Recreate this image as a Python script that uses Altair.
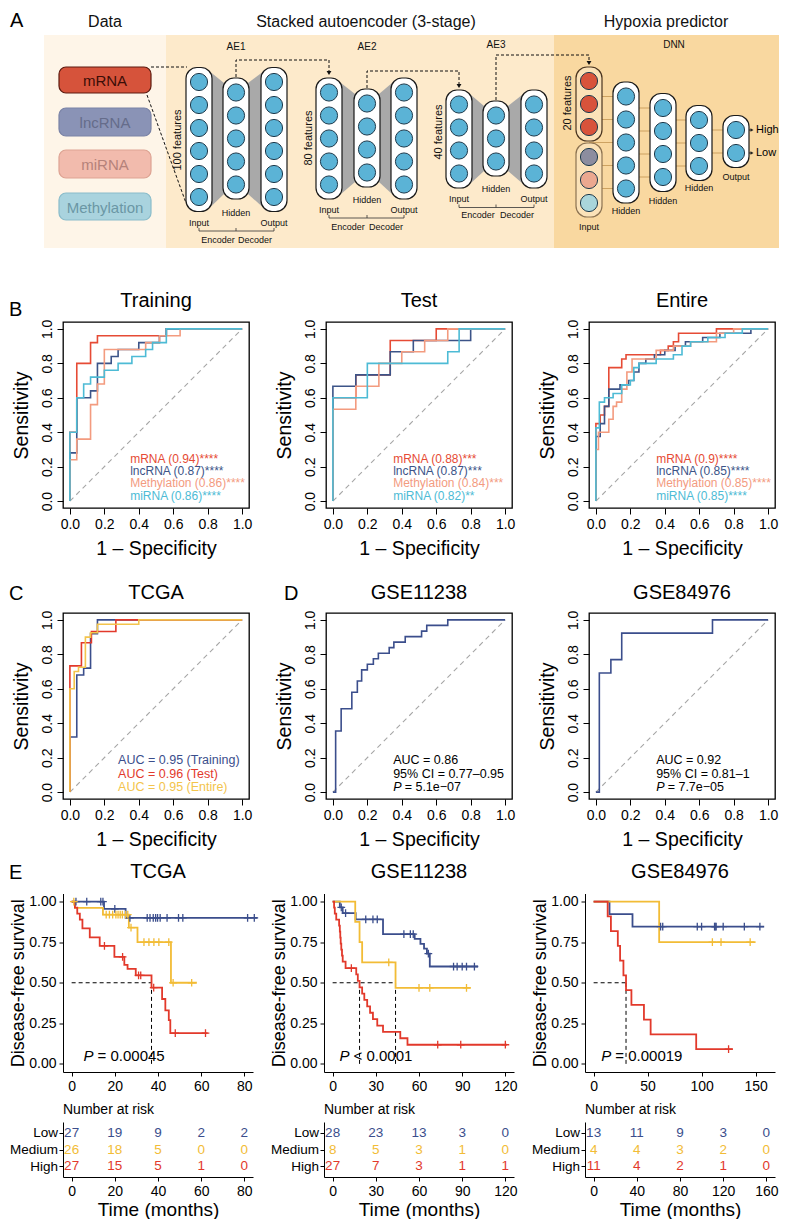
import altair as alt
import pandas as pd

FONT = "Liberation Sans"

# ---------------- colours ----------------
C_MRNA, C_LNC, C_METH, C_MIR = "#E64B35", "#3C5488", "#F39B7F", "#4DBBD5"
C_LOW, C_MED, C_HIGH, C_ENT = "#3B4E8C", "#F2BC36", "#E2392B", "#F3C44C"

# =============== Panel A : network diagram (geometry of the schematic) ===============
DIAG_X0, DIAG_X1 = 62, 776
region_x1 = [43, 165, 553]
region_x2 = [165, 553, 778]
region_fill = ["#FEF5E8", "#FDEACB", "#F9D8A0"]
region_top, region_bottom = 35, 248

omics_names = ["mRNA", "lncRNA", "miRNA", "Methylation"]
omics_y1 = [67, 108, 150, 193]
omics_y2 = [93, 136, 178, 220]
omics_fill = ["#D6533B", "#8A93B6", "#F2BBAD", "#A9D3DE"]
omics_stroke = ["#5C1B10", "#7A83A6", "#DDA393", "#8ABCCA"]
omics_text = ["#3B0E07", "#656C8A", "#B5827A", "#6B97A5"]

col_cx = [198, 235, 273, 328, 366, 403, 458, 495, 533, 625, 662, 698, 735]
col_cy = [139.5, 138.5, 139.5, 138.5, 138, 138.5, 139, 138.5, 139, 142.5, 142.5, 143, 141.5]
col_n = [6, 5, 6, 5, 4, 5, 4, 3, 4, 5, 4, 3, 2]
funnel_pairs = [(0, 1), (1, 2), (3, 4), (4, 5), (6, 7), (7, 8)]
dnn_pairs = [(13, 9), (9, 10), (10, 11), (11, 12)]

dnn_in_cx = 588
dnn_in_cy = [104, 180]
dnn_in_colors = [["#D8533B", "#D8533B", "#D8533B"], ["#8C8D9F", "#EBA890", "#A9D5DB"]]

dash_paths = [
    [(150, 67), (186, 67)],
    [(146, 95), (185, 203)],
    [(235, 77), (235, 60), (328, 60), (328, 73)],
    [(366, 88), (366, 71), (458, 71), (458, 86)],
    [(495, 100), (495, 55), (588, 55), (588, 63)],
]
arrow_down = [(328, 73), (458, 86), (588, 63)]

bracket_y = [231, 218, 207.5]
bracket_x = [(198, 235, 273), (328, 366, 403), (458, 495, 533)]

lab_text = ["Data", "Stacked autoencoder (3-stage)", "Hypoxia predictor",
            "AE1", "AE2", "AE3", "DNN",
            "Input", "Hidden", "Output", "Encoder", "Decoder",
            "Input", "Hidden", "Output", "Encoder", "Decoder",
            "Input", "Hidden", "Output", "Encoder", "Decoder",
            "Input", "Hidden", "Hidden", "Hidden", "Output"]
lab_x = [104, 365, 665, 235, 366, 495, 673,
         198, 235, 273, 217, 254,
         328, 366, 403, 347, 385,
         458, 495, 533, 477, 516,
         588, 625, 662, 698, 735]
lab_y = [22, 22, 22, 46.5, 46.5, 45, 45,
         222.5, 213, 222.5, 239.5, 239.5,
         210, 200, 210, 226.5, 226.5,
         199, 189, 199, 215, 215,
         227, 211, 201, 188, 177]
lab_size = [16, 16, 16, 10, 10, 10, 10] + [9] * 20

feat_text = ["100 features", "80 features", "40 features", "20 features"]
feat_x = [177, 308, 438, 567]
feat_y = [140, 138, 132, 103]

out_text = ["High", "Low"]
out_y = [130, 153]


def diagram():
    xs = alt.Scale(domain=[DIAG_X0, DIAG_X1], nice=False, zero=False)
    ys = alt.Scale(domain=[8, 250], nice=False, zero=False, reverse=True)

    def X(f):
        return alt.X(f + ":Q", scale=xs, axis=None)

    def Y(f):
        return alt.Y(f + ":Q", scale=ys, axis=None)

    L = []
    reg = pd.DataFrame({"x1": region_x1, "x2": region_x2, "y1": region_top,
                        "y2": region_bottom, "fill": region_fill})
    L.append(alt.Chart(reg).mark_rect().encode(
        x=X("x1"), x2="x2:Q", y=Y("y1"), y2="y2:Q", fill=alt.Fill("fill:N", scale=None)))

    om = pd.DataFrame({"name": omics_names, "y1": omics_y1, "y2": omics_y2, "x1": 58, "x2": 150,
                       "fill": omics_fill, "stroke": omics_stroke, "tc": omics_text})
    om["yc"] = (om["y1"] + om["y2"]) / 2
    om["xc"] = 104
    L.append(alt.Chart(om).mark_rect(cornerRadius=7, strokeWidth=1.2).encode(
        x=X("x1"), x2="x2:Q", y=Y("y1"), y2="y2:Q",
        fill=alt.Fill("fill:N", scale=None), stroke=alt.Stroke("stroke:N", scale=None)))
    L.append(alt.Chart(om).mark_text(fontSize=15, baseline="middle", dy=1).encode(
        x=X("xc"), y=Y("yc"), text="name:N", color=alt.Color("tc:N", scale=None)))

    cols = []
    for cx, cy, n in zip(col_cx, col_cy, col_n):
        h = n * 23 + 6
        cols.append(dict(x1=cx - 13, x2=cx + 13, y1=cy - h / 2, y2=cy + h / 2, cx=cx))
    cols_all = cols + [dict(x1=dnn_in_cx - 13, x2=dnn_in_cx + 13, y1=67, y2=217, cx=dnn_in_cx)]

    fun = []
    for k, (a, b) in enumerate(funnel_pairs):
        A, B = cols[a], cols[b]
        fun.append(dict(fid=k, x=A["x2"] - 1, yt=A["y1"] + 5, yb=A["y2"] - 5))
        fun.append(dict(fid=k, x=B["x1"] + 1, yt=B["y1"] + 5, yb=B["y2"] - 5))
    L.append(alt.Chart(pd.DataFrame(fun)).mark_area(color="#A9A9A9", opacity=1).encode(
        x=X("x"), y=Y("yt"), y2="yb:Q", detail="fid:N"))

    con = []
    for a, b in dnn_pairs:
        A, B = cols_all[a], cols_all[b]
        n = col_n[b]
        cy = col_cy[b]
        for i in range(n):
            con.append(dict(x1=A["cx"], x2=B["cx"], y=cy + (i - (n - 1) / 2) * 23))
    L.append(alt.Chart(pd.DataFrame(con)).mark_rule(color="#C79C5A", strokeWidth=0.9).encode(
        x=X("x1"), x2="x2:Q", y=Y("y")))

    dp = []
    for k, path in enumerate(dash_paths):
        for i, (px, py) in enumerate(path):
            dp.append(dict(pid=k, i=i, x=px, y=py))
    L.append(alt.Chart(pd.DataFrame(dp)).mark_line(strokeDash=[3, 2], color="#111", strokeWidth=1).encode(
        x=X("x"), y=Y("y"), detail="pid:N", order="i:Q"))

    L.append(alt.Chart(pd.DataFrame(cols)).mark_rect(cornerRadius=11, fill="white", stroke="#1A1A1A",
                                                      strokeWidth=1.2).encode(
        x=X("x1"), x2="x2:Q", y=Y("y1"), y2="y2:Q"))
    dbox = pd.DataFrame({"x1": dnn_in_cx - 13, "x2": dnn_in_cx + 13,
                         "y1": [67, 143], "y2": [141, 217], "st": ["#4A3520", "#8C7352"]})
    L.append(alt.Chart(dbox).mark_rect(cornerRadius=11, fill="#FBE2B8", strokeWidth=1.2).encode(
        x=X("x1"), x2="x2:Q", y=Y("y1"), y2="y2:Q", stroke=alt.Stroke("st:N", scale=None)))

    circ = []
    for cx, cy, n in zip(col_cx, col_cy, col_n):
        for i in range(n):
            circ.append(dict(x=cx, y=cy + (i - (n - 1) / 2) * 23, f="#5BB3D6"))
    for cy, colors in zip(dnn_in_cy, dnn_in_colors):
        for i, c in enumerate(colors):
            circ.append(dict(x=dnn_in_cx, y=cy + (i - 1) * 23, f=c))
    L.append(alt.Chart(pd.DataFrame(circ)).mark_circle(size=295, opacity=1, stroke="#1E3A4C",
                                                        strokeWidth=1).encode(
        x=X("x"), y=Y("y"), color=alt.Color("f:N", scale=None)))

    ad = pd.DataFrame({"x": [p[0] for p in arrow_down], "y": [p[1] for p in arrow_down]})
    L.append(alt.Chart(ad).mark_point(shape="triangle-down", filled=True, size=24, color="#111",
                                      opacity=1).encode(x=X("x"), y=Y("y")))

    oa = pd.DataFrame({"x1": 748, "x2": 751, "y": out_y, "t": out_text, "xt": 755})
    L.append(alt.Chart(oa).mark_rule(color="#222", strokeWidth=1).encode(x=X("x1"), x2="x2:Q", y=Y("y")))
    L.append(alt.Chart(oa).mark_point(shape="triangle-right", filled=True, size=12, color="#222",
                                      opacity=1).encode(x=X("x2"), y=Y("y")))
    L.append(alt.Chart(oa).mark_text(align="left", baseline="middle", fontSize=11).encode(
        x=X("xt"), y=Y("y"), text="t:N"))

    br = []
    for yb, xsb in zip(bracket_y, bracket_x):
        br.append(dict(x1=xsb[0], x2=xsb[2], y1=yb, y2=yb))
        for xx in xsb:
            br.append(dict(x1=xx, x2=xx, y1=yb - 3, y2=yb))
    L.append(alt.Chart(pd.DataFrame(br)).mark_rule(color="#333", strokeWidth=0.8).encode(
        x=X("x1"), x2="x2:Q", y=Y("y1"), y2="y2:Q"))

    lab = pd.DataFrame({"t": lab_text, "x": lab_x, "y": lab_y, "s": lab_size})
    L.append(alt.Chart(lab).mark_text(baseline="middle", color="#111").encode(
        x=X("x"), y=Y("y"), text="t:N", size=alt.Size("s:Q", scale=None)))
    ft = pd.DataFrame({"t": feat_text, "x": feat_x, "y": feat_y})
    L.append(alt.Chart(ft).mark_text(angle=270, baseline="middle", fontSize=11, color="#111").encode(
        x=X("x"), y=Y("y"), text="t:N"))
    L.append(alt.Chart(pd.DataFrame({"t": ["A"], "x": [9], "y": [27]})).mark_text(
        align="left", baseline="alphabetic", fontSize=20).encode(x=X("x"), y=Y("y"), text="t:N"))

    return alt.layer(*L).properties(width=DIAG_X1 - DIAG_X0, height=242)


# =============== ROC panels ===============
ROC_W = 186
TICKS01 = [0, 0.2, 0.4, 0.6, 0.8, 1.0]
ROC_XAXIS = alt.Axis(values=TICKS01, format=".1f", title="1 – Specificity", tickSize=6, labelPadding=3,
                     labelFontSize=14, titleFontSize=19.5, titlePadding=8, grid=False, domain=False,
                     labelFlush=False, labelOverlap=False)
ROC_YAXIS = alt.Axis(values=TICKS01, format=".1f", title="Sensitivity", tickSize=6, labelPadding=3,
                     labelFontSize=14, labelAngle=270, labelAlign="center", labelBaseline="bottom",
                     titleFontSize=19.5, titlePadding=9, grid=False, domain=False,
                     labelFlush=False, labelOverlap=False)

# Training
tr_names = ["mRNA", "lncRNA", "Methylation", "miRNA"]
tr_colors = [C_MRNA, C_LNC, C_METH, C_MIR]
tr_x = [[0, 0, 0.04, 0.12, 0.16, 0.56, 1.0],
        [0, 0, 0.04, 0.12, 0.16, 0.24, 0.28, 0.40, 0.52, 0.56, 1.0],
        [0, 0, 0.04, 0.12, 0.16, 0.20, 0.44, 0.52, 0.64, 1.0],
        [0, 0, 0.04, 0.08, 0.12, 0.20, 0.28, 0.36, 0.44, 0.48, 0.56, 1.0]]
tr_y = [[0, 0.40, 0.80, 0.92, 0.96, 1.0, 1.0],
        [0, 0.28, 0.60, 0.64, 0.80, 0.84, 0.88, 0.92, 0.96, 1.0, 1.0],
        [0, 0.24, 0.36, 0.56, 0.68, 0.88, 0.92, 0.96, 1.0, 1.0],
        [0, 0.40, 0.60, 0.68, 0.72, 0.76, 0.80, 0.84, 0.88, 0.92, 1.0, 1.0]]
tr_leg = ["mRNA (0.94)****", "lncRNA (0.87)****", "Methylation (0.86)****", "miRNA (0.86)****"]

# Test
te_x = [[0, 0, 0.133, 0.333, 0.60, 1.0],
        [0, 0, 0.133, 0.333, 0.467, 0.80, 1.0],
        [0, 0, 0.133, 0.267, 0.40, 0.533, 0.667, 1.0],
        [0, 0, 0.20, 0.667, 0.733, 1.0]]
te_y = [[0, 0.60, 0.733, 0.933, 1.0, 1.0],
        [0, 0.667, 0.733, 0.867, 0.933, 1.0, 1.0],
        [0, 0.533, 0.667, 0.80, 0.867, 0.933, 1.0, 1.0],
        [0, 0.60, 0.80, 0.867, 1.0, 1.0]]
te_leg = ["mRNA (0.88)***", "lncRNA (0.87)***", "Methylation (0.84)***", "miRNA (0.82)**"]

# Entire
en_x = [[0, 0, 0.025, 0.05, 0.075, 0.15, 0.175, 0.375, 0.42, 0.45, 0.48, 0.70, 1.0],
        [0, 0, 0.025, 0.05, 0.075, 0.14, 0.19, 0.22, 0.25, 0.29, 0.34, 0.40, 0.46, 0.52, 0.62, 0.72, 0.90, 1.0],
        [0, 0, 0.015, 0.075, 0.10, 0.12, 0.15, 0.18, 0.21, 0.35, 0.45, 0.55, 0.70, 0.80, 1.0],
        [0, 0, 0.02, 0.05, 0.10, 0.15, 0.20, 0.22, 0.25, 0.35, 0.45, 0.50, 0.55, 0.65, 0.75, 0.85, 1.0]]
en_y = [[0, 0.45, 0.50, 0.55, 0.775, 0.825, 0.85, 0.875, 0.90, 0.925, 0.975, 1.0, 1.0],
        [0, 0.375, 0.45, 0.55, 0.65, 0.675, 0.70, 0.75, 0.80, 0.825, 0.85, 0.875, 0.90, 0.925, 0.95, 0.975, 1.0, 1.0],
        [0, 0.30, 0.40, 0.475, 0.55, 0.575, 0.65, 0.75, 0.825, 0.875, 0.90, 0.925, 0.975, 1.0, 1.0],
        [0, 0.425, 0.575, 0.60, 0.625, 0.675, 0.70, 0.775, 0.80, 0.825, 0.85, 0.90, 0.925, 0.95, 0.975, 1.0, 1.0]]
en_leg = ["mRNA (0.9)****", "lncRNA (0.85)****", "Methylation (0.85)****", "miRNA (0.85)****"]
leg4_y = [0.245, 0.174, 0.103, 0.032]

# TCGA ROC
tc_names = ["Training", "Test", "Entire"]
tc_colors = [C_LOW, C_HIGH, C_ENT]
tc_x = [[0, 0, 0.04, 0.08, 0.12, 0.16, 1.0],
        [0, 0, 0.067, 0.125, 0.267, 1.0],
        [0, 0, 0.025, 0.05, 0.09, 0.12, 0.16, 0.40, 1.0]]
tc_y = [[0, 0.32, 0.68, 0.72, 0.92, 1.0, 1.0],
        [0, 0.733, 0.867, 0.933, 1.0, 1.0],
        [0, 0.60, 0.70, 0.725, 0.90, 0.925, 0.975, 1.0, 1.0]]
tc_leg = ["AUC = 0.95 (Training)", "AUC = 0.96 (Test)", "AUC = 0.95 (Entire)"]
leg3_y = [0.185, 0.105, 0.028]

# GEO ROC
g1_x = [[0, 0.016, 0.048, 0.11, 0.142, 0.167, 0.20, 0.235, 0.264, 0.327, 0.354, 0.42, 0.515, 0.545, 0.667, 1.0]]
g1_y = [[0, 0.355, 0.484, 0.58, 0.645, 0.71, 0.742, 0.774, 0.806, 0.839, 0.871, 0.903, 0.935, 0.968, 1.0, 1.0]]
g1_leg = ["AUC = 0.86", "95% CI = 0.77–0.95"]
g1_p = "= 5.1e−07"
g2_x = [[0, 0.02, 0.087, 0.15, 0.677, 1.0]]
g2_y = [[0, 0.692, 0.769, 0.923, 1.0, 1.0]]
g2_leg = ["AUC = 0.92", "95% CI = 0.81–1"]
g2_p = "= 7.7e−05"


def roc_chart(names, colors, cx, cy, leg_text, leg_color, leg_x, leg_y, title,
              letter=None, letter_x=-54, letter_y=-6, title_y=-15, p_rest=None, leg_size=12):
    rows = []
    for nm, col, xx, yy in zip(names, colors, cx, cy):
        for i, (a, b) in enumerate(zip(xx, yy)):
            rows.append(dict(name=nm, color=col, i=i, x=a, y=b))
    sc = alt.Scale(domain=[-0.04, 1.04], nice=False, zero=False)
    X = alt.X("x:Q", scale=sc, axis=ROC_XAXIS)
    Y = alt.Y("y:Q", scale=sc, axis=ROC_YAXIS)
    L = []
    L.append(alt.Chart(pd.DataFrame({"x": [0, 1], "y": [0, 1]})).mark_line(
        strokeDash=[5, 4], color="#A6A6A6", strokeWidth=1.1).encode(x=X, y=Y))
    L.append(alt.Chart(pd.DataFrame(rows)).mark_line(interpolate="step-after", strokeWidth=1.6).encode(
        x=X, y=Y, color=alt.Color("color:N", scale=None), detail="name:N", order="i:Q"))
    ldf = pd.DataFrame({"t": leg_text, "c": leg_color, "x": leg_x, "y": leg_y[:len(leg_text)]})
    L.append(alt.Chart(ldf).mark_text(align="left", baseline="middle", fontSize=leg_size).encode(
        x=X, y=Y, text="t:N", color=alt.Color("c:N", scale=None)))
    if p_rest is not None:
        pdf = pd.DataFrame({"x": [leg_x], "y": [leg_y[len(leg_text)]]})
        L.append(alt.Chart(pdf).mark_text(text="P", fontStyle="italic", align="left", baseline="middle",
                                          fontSize=leg_size).encode(x=X, y=Y))
        L.append(alt.Chart(pdf).mark_text(text=p_rest, align="left", baseline="middle",
                                          fontSize=leg_size, dx=11.5).encode(x=X, y=Y))
    L.append(alt.Chart(pd.DataFrame({"t": [title]})).mark_text(
        fontSize=20, align="center", baseline="alphabetic").encode(
        x=alt.value(ROC_W / 2), y=alt.value(title_y), text="t:N"))
    if letter:
        L.append(alt.Chart(pd.DataFrame({"t": [letter]})).mark_text(
            fontSize=20, align="left", baseline="alphabetic").encode(
            x=alt.value(letter_x), y=alt.value(letter_y), text="t:N"))
    return alt.layer(*L).properties(width=ROC_W, height=ROC_W,
                                    view=alt.ViewBackground(stroke="black", strokeWidth=1.3))


# =============== Kaplan-Meier panels ===============
KM_W, KM_H = 190, 178.5
groups = ["Low", "Medium", "High"]
group_colors = [C_LOW, C_MED, C_HIGH]

# TCGA
t1_t = [[0, 15, 25],
        [0, 1.5, 14.5, 26.5, 30.5, 46],
        [0, 1.5, 2.6, 3.8, 5.0, 8.4, 13, 19.8, 24.4, 25.9, 29.7, 37, 41.9, 43.4, 45, 45.7]]
t1_s = [[1.0, 0.955, 0.90],
        [1.0, 0.962, 0.92, 0.84, 0.75, 0.50],
        [1.0, 0.963, 0.926, 0.889, 0.835, 0.78, 0.727, 0.66, 0.61, 0.585, 0.545, 0.47, 0.40, 0.33, 0.27, 0.19]]
t1_end = [86, 58, 63]
t1_cens = [[2, 7, 13.5, 14.5, 20, 27, 35, 36.3, 37.8, 38.9, 39.8, 41, 44.2, 49.5, 51.5, 81.5, 84.6],
           [1, 16, 17.5, 19, 20.5, 21.5, 22.5, 23.5, 25, 26, 27.5, 33.5, 35.8, 38.1, 40.4, 45, 47, 55.6],
           [15.2, 23.6, 31, 32, 38, 48, 62]]
t1_median_h, t1_median_v = 37, [37]

# GSE11238
t2_t = [[0, 5, 7, 16, 35, 57, 61, 63.5, 65.5, 67.5],
        [0, 15.7, 18.7, 20.5, 43.7],
        [0, 1, 1.5, 2.5, 4.5, 5, 5.3, 5.6, 6, 6.5, 7, 9, 16.4, 17.5, 18.7, 20.5, 22, 24, 26, 28, 31, 35, 47, 52]]
t2_s = [[1, 0.964, 0.929, 0.89, 0.80, 0.77, 0.74, 0.71, 0.68, 0.60],
        [1, 0.875, 0.75, 0.625, 0.469],
        [1, 0.963, 0.926, 0.889, 0.852, 0.815, 0.778, 0.741, 0.704, 0.667, 0.63, 0.59, 0.551, 0.512,
         0.472, 0.433, 0.394, 0.354, 0.315, 0.276, 0.236, 0.197, 0.158, 0.118]]
t2_end = [101, 96, 121]
t2_cens = [[6, 9, 23, 28, 31, 49.5, 54, 56, 66.5, 84, 86.5, 90, 93, 98.5],
           [39, 60, 67.5, 93],
           [13, 73, 89, 120]]
t2_median_h, t2_median_v = 43.7, [18.7, 43.7]

# GSE84976
t3_t = [[0, 14.7, 36],
        [0, 60.7],
        [0, 13, 16, 22.4, 24.5, 27.6, 30, 35, 46.6, 52.8, 95]]
t3_s = [[1, 0.923, 0.846],
        [1, 0.75],
        [1, 0.909, 0.818, 0.727, 0.636, 0.545, 0.455, 0.364, 0.273, 0.182, 0.091]]
t3_end = [158, 150, 129]
t3_cens = [[62, 64, 96, 100, 112, 112.6, 113.5, 120, 139.6, 154],
           [110, 118, 145],
           [125]]
t3_median_h, t3_median_v = 30, [30]

# risk tables
risk_t1 = [0, 20, 40, 60, 80]
risk1 = [[27, 19, 9, 2, 2], [26, 18, 5, 0, 0], [27, 15, 5, 1, 0]]
risk_t2 = [0, 30, 60, 90, 120]
risk2 = [[28, 23, 13, 3, 0], [8, 5, 3, 1, 0], [27, 7, 3, 1, 1]]
risk_t3 = [0, 40, 80, 120, 160]
risk3 = [[13, 11, 9, 3, 0], [4, 4, 3, 2, 0], [11, 4, 2, 1, 0]]

CROSS = "M-1,0L1,0M0,-1L0,1"


def surv_at(times, survs, c):
    v = survs[0]
    for t, s in zip(times, survs):
        if t <= c:
            v = s
    return v


def km_chart(tt, ss, ends, cens, med_h, med_v, xdom, xticks, p_x, p_rest, title, letter=None):
    sx = alt.Scale(domain=xdom, nice=False, zero=False)
    sy = alt.Scale(domain=[-0.05, 1.05], nice=False, zero=False)
    xax = alt.Axis(values=xticks, title=None, tickSize=4, labelPadding=3, labelFontSize=14, grid=False,
                   domainWidth=1, labelFlush=False, labelOverlap=False)
    yax = alt.Axis(values=[0, 0.25, 0.5, 0.75, 1.0], format=".2f", title="Disease-free survival",
                   tickSize=4, labelPadding=3, labelFontSize=14, titleFontSize=18, titlePadding=1,
                   grid=False, domainWidth=1, labelFlush=False, labelOverlap=False)
    X = alt.X("x:Q", scale=sx, axis=xax)
    Y = alt.Y("y:Q", scale=sy, axis=yax)
    rows, crow = [], []
    for g, col, t, s, e, cc in zip(groups, group_colors, tt, ss, ends, cens):
        for i, (a, b) in enumerate(zip(t + [e], s + [s[-1]])):
            rows.append(dict(g=g, color=col, i=i, x=a, y=b))
        for c in cc:
            crow.append(dict(g=g, color=col, x=c, y=surv_at(t, s, c)))
    L = []
    med = [dict(x=0, x2=med_h, y=0.5, y2=0.5)] + [dict(x=v, x2=v, y=0, y2=0.5) for v in med_v]
    L.append(alt.Chart(pd.DataFrame(med)).mark_rule(strokeDash=[4, 3], color="black", strokeWidth=1).encode(
        x=X, x2="x2:Q", y=Y, y2="y2:Q"))
    L.append(alt.Chart(pd.DataFrame(rows)).mark_line(interpolate="step-after", strokeWidth=1.8).encode(
        x=X, y=Y, color=alt.Color("color:N", scale=None), detail="g:N", order="i:Q"))
    L.append(alt.Chart(pd.DataFrame(crow)).mark_point(shape=CROSS, filled=False, size=60, strokeWidth=1.3,
                                                      opacity=1).encode(
        x=X, y=Y, color=alt.Color("color:N", scale=None)))
    pdf = pd.DataFrame({"x": [p_x], "y": [0.015]})
    L.append(alt.Chart(pdf).mark_text(text="P", fontStyle="italic", align="left", baseline="alphabetic",
                                      fontSize=15).encode(x=X, y=Y))
    L.append(alt.Chart(pdf).mark_text(text=p_rest, align="left", baseline="alphabetic", fontSize=15,
                                      dx=14).encode(x=X, y=Y))
    L.append(alt.Chart(pd.DataFrame({"t": [title]})).mark_text(
        fontSize=20, align="center", baseline="alphabetic").encode(
        x=alt.value(KM_W / 2), y=alt.value(-15.5), text="t:N"))
    if letter:
        L.append(alt.Chart(pd.DataFrame({"t": [letter]})).mark_text(
            fontSize=20, align="left", baseline="alphabetic").encode(
            x=alt.value(-54), y=alt.value(-14.5), text="t:N"))
    return alt.layer(*L).properties(width=KM_W, height=KM_H)


def risk_chart(times, table, xdom, xticks):
    sx = alt.Scale(domain=xdom, nice=False, zero=False)
    xax = alt.Axis(values=xticks, title="Time (months)", tickSize=4, labelPadding=3, labelFontSize=14,
                   titleFontSize=19, titlePadding=2, grid=False, domainWidth=1, labelFlush=False,
                   labelOverlap=False)
    yax = alt.Axis(title=None, tickSize=4, labelPadding=1.5, labelFontSize=13.5, domainWidth=1, grid=False)
    rows = []
    for g, col, vals in zip(groups, group_colors, table):
        for t, v in zip(times, vals):
            rows.append(dict(g=g, color=col, x=t, n=str(v)))
    num = alt.Chart(pd.DataFrame(rows)).mark_text(fontSize=13.5, baseline="middle").encode(
        x=alt.X("x:Q", scale=sx, axis=xax),
        y=alt.Y("g:N", sort=groups, axis=yax, scale=alt.Scale(type="point", padding=0.62)),
        text="n:N", color=alt.Color("color:N", scale=None))
    hdr = alt.Chart(pd.DataFrame({"t": ["Number at risk"]})).mark_text(
        fontSize=14, align="left", baseline="alphabetic").encode(
        x=alt.value(0), y=alt.value(-8), text="t:N")
    return alt.layer(num, hdr).properties(width=KM_W, height=55)


# =============== assemble ===============
rowA = diagram()

rowB = alt.hconcat(
    roc_chart(tr_names, tr_colors, tr_x, tr_y, tr_leg, tr_colors, 0.35, leg4_y, "Training",
              letter="B", letter_y=-6),
    roc_chart(tr_names, tr_colors, te_x, te_y, te_leg, tr_colors, 0.35, leg4_y, "Test"),
    roc_chart(tr_names, tr_colors, en_x, en_y, en_leg, tr_colors, 0.35, leg4_y, "Entire"),
    spacing=77, bounds="flush")

rowCD = alt.hconcat(
    roc_chart(tc_names, tc_colors, tc_x, tc_y, tc_leg, tc_colors, 0.28, leg3_y, "TCGA",
              letter="C", letter_y=-13, title_y=-14, leg_size=12.5),
    roc_chart(["GSE11238"], [C_LOW], g1_x, g1_y, g1_leg, ["black", "black"], 0.35, leg3_y, "GSE11238",
              letter="D", letter_x=-42, letter_y=-13, title_y=-14, p_rest=g1_p, leg_size=12.5),
    roc_chart(["GSE84976"], [C_LOW], g2_x, g2_y, g2_leg, ["black", "black"], 0.35, leg3_y, "GSE84976",
              title_y=-14, p_rest=g2_p, leg_size=12.5),
    spacing=77, bounds="flush")

rowEkm = alt.hconcat(
    km_chart(t1_t, t1_s, t1_end, t1_cens, t1_median_h, t1_median_v, [-4, 84], [0, 20, 40, 60, 80],
             5.5, "= 0.00045", "TCGA", letter="E"),
    km_chart(t2_t, t2_s, t2_end, t2_cens, t2_median_h, t2_median_v, [-6, 126], [0, 30, 60, 90, 120],
             4.8, "< 0.0001", "GSE11238"),
    km_chart(t3_t, t3_s, t3_end, t3_cens, t3_median_h, t3_median_v, [-8, 168], [0, 50, 100, 150],
             7.1, "= 0.00019", "GSE84976"),
    spacing=71, bounds="flush")

rowErisk = alt.hconcat(
    risk_chart(risk_t1, risk1, [-4, 84], risk_t1),
    risk_chart(risk_t2, risk2, [-6, 126], risk_t2),
    risk_chart(risk_t3, risk3, [-8, 168], risk_t3),
    spacing=71, bounds="flush")

chart = alt.vconcat(
    rowA,
    alt.vconcat(rowB,
                alt.vconcat(rowCD,
                            alt.vconcat(rowEkm, rowErisk, spacing=9.5),
                            spacing=11.5),
                spacing=23),
    spacing=40,
).properties(padding=0).configure(font=FONT).configure_view(stroke=None).configure_axis(
    labelColor="black", titleColor="black", tickColor="black", domainColor="black",
    labelFont=FONT, titleFont=FONT, titleFontWeight="normal"
).configure_text(font=FONT)

chart.save("out.html", embed_options={"renderer": "svg", "actions": False})
